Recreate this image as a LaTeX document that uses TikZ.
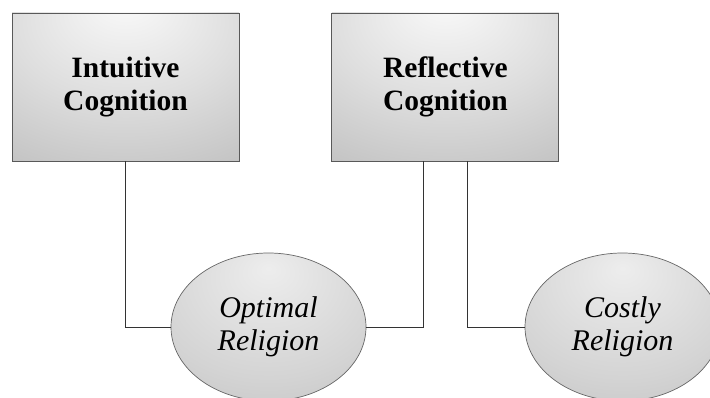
\documentclass[tikz,border=0pt]{standalone}
\usepackage{fontspec}
\setmainfont{Liberation Serif}
\usetikzlibrary{positioning}
\usetikzlibrary{shapes.geometric}

\pgfdeclareradialshading{boxglow}{\pgfpoint{0bp}{30bp}}{color(0bp)=(black!2); color(25bp)=(black!13); color(55bp)=(black!28); color(80bp)=(black!36)}
\pgfdeclareradialshading{ellglow}{\pgfpoint{0bp}{20bp}}{color(0bp)=(black!7); color(30bp)=(black!17); color(60bp)=(black!29); color(80bp)=(black!33)}

\begin{document}
\begin{tikzpicture}[
  x=1pt, y=1pt,
  node distance=92pt,
  cogbox/.style={draw=black!65,line width=0.9pt,shading=boxglow,minimum width=227pt,minimum height=148pt,align=center,font=\bfseries\fontsize{29.5}{33}\selectfont},
  relnode/.style={draw=black!60,line width=0.7pt,ellipse,shading=ellglow,minimum width=195pt,minimum height=148pt,align=center,font=\itshape\fontsize{30}{33}\selectfont},
  link/.style={draw=black!80,line width=0.8pt}
]
\useasboundingbox (0,0) rectangle (710,397);

\node[cogbox] (ic) at (125.5,310) {Intuitive\\Cognition};
\node[cogbox,right=of ic] (rc) {Reflective\\Cognition};

\node[relnode] (opt) at (268.5,70) {Optimal\\Religion};
\node[relnode] (cost) at (622.5,70) {Costly\\Religion};

\path[link] (ic.south) |- (opt.west)
  ([xshift=-22pt]rc.south) |- (opt.east)
  ([xshift=22pt]rc.south) |- (cost.west)
;

\end{tikzpicture}
\end{document}
